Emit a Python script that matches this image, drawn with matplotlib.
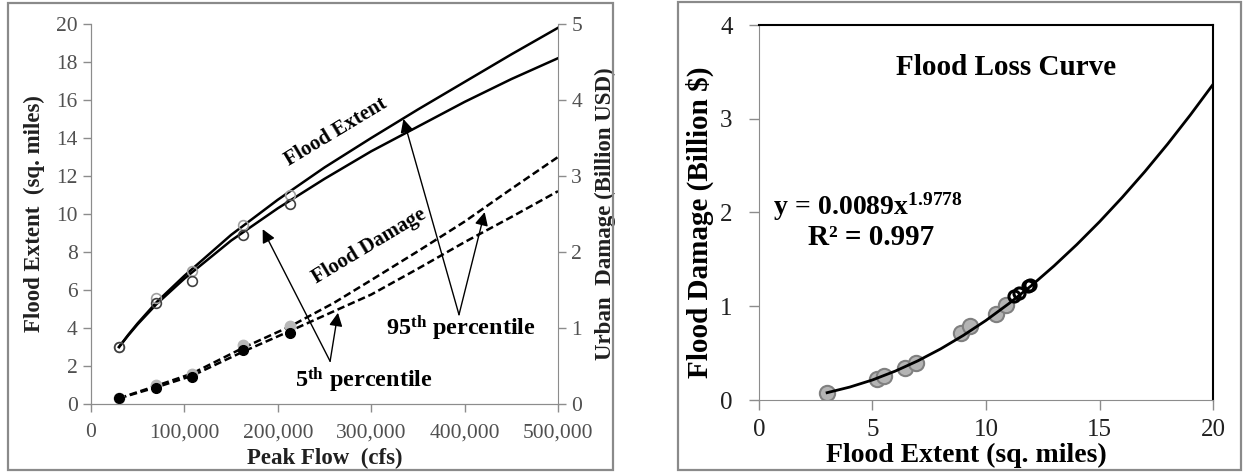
import matplotlib
matplotlib.use("Agg")
from matplotlib import pyplot as plt
from matplotlib.patches import Rectangle
import numpy as np

plt.rcParams['font.family'] = ['Liberation Serif', 'DejaVu Serif']
plt.rcParams['mathtext.fontset'] = 'custom'
plt.rcParams['mathtext.rm'] = 'Liberation Serif'
plt.rcParams['mathtext.bf'] = 'Liberation Serif:bold'
plt.rcParams['mathtext.it'] = 'Liberation Serif:italic'

# left panel: peak flow vs flood extent / damage
flow_curve = [30000, 40000, 50000, 70000, 100000, 150000, 200000, 250000, 300000, 350000, 400000, 450000, 500000]
extent_95 = [3.0, 3.65, 4.25, 5.35, 6.75, 8.9, 10.75, 12.45, 14.0, 15.5, 16.95, 18.4, 19.8]
extent_5 = [3.0, 3.62, 4.2, 5.25, 6.6, 8.6, 10.3, 11.85, 13.3, 14.6, 15.9, 17.1, 18.2]

flow_dmg = [30000, 70000, 108000, 163000, 213000, 260000, 300000, 350000, 400000, 450000, 500000]
damage_95 = [0.075, 0.24, 0.40, 0.74, 1.02, 1.33, 1.63, 2.01, 2.40, 2.83, 3.25]
damage_5 = [0.075, 0.22, 0.37, 0.69, 0.96, 1.22, 1.44, 1.78, 2.13, 2.46, 2.80]

flow_pts = [30000, 70000, 108000, 163000, 213000]
ext_pts_95 = [3.0, 5.6, 7.0, 9.4, 11.0]
ext_pts_5 = [3.0, 5.3, 6.5, 8.9, 10.5]
dmg_pts_95 = [0.075, 0.25, 0.40, 0.78, 1.03]
dmg_pts_5 = [0.075, 0.21, 0.35, 0.71, 0.94]

# right panel: flood extent vs flood damage
ext_obs = [3.0, 5.2, 5.5, 6.45, 6.9, 8.9, 9.3, 10.45, 10.9]
dmg_obs = [0.08, 0.22, 0.26, 0.34, 0.40, 0.72, 0.79, 0.92, 1.01]
ext_obs2 = [11.25, 11.45, 11.85, 11.95]
dmg_obs2 = [1.11, 1.14, 1.22, 1.23]
fit_x = [3, 4, 5, 6, 7, 8, 9, 10, 11, 12, 13, 14, 15, 16, 17, 18, 19, 20]
fit_y = [0.078, 0.138, 0.214, 0.308, 0.418, 0.545, 0.689, 0.849, 1.027, 1.220, 1.431, 1.658, 1.901, 2.161, 2.437, 2.730, 3.040, 3.366]

fig = plt.figure(figsize=(12.43, 4.73), dpi=100)

# outer frames
fig.add_artist(Rectangle((8/1243, 3/473), 605/1243, 467/473, transform=fig.transFigure,
                         fill=False, ec='#8a8a8a', lw=1.6))
fig.add_artist(Rectangle((678/1243, 3/473), 563/1243, 468/473, transform=fig.transFigure,
                         fill=False, ec='#8a8a8a', lw=1.6))

gray = '#8c8c8c'

# ---------------- left panel ----------------
ax = fig.add_axes([91/1243, 69/473, 467/1243, 380/473])
ax2 = ax.twinx()
ax.set_xlim(0, 500000)
ax.set_ylim(0, 20)
ax2.set_ylim(0, 5)

ax.plot(flow_curve, extent_95, color='black', lw=1.8)
ax.plot(flow_curve, extent_5, color='black', lw=1.8)
ax.plot(flow_pts, ext_pts_95, 'o', ms=7, mfc='none', mec='#a0a0a0', mew=1.2)
ax.plot(flow_pts, ext_pts_5, 'o', ms=7, mfc='none', mec='#404040', mew=1.2)

ax2.plot(flow_dmg, damage_95, color='black', lw=1.8, ls=(0, (3, 1.5)))
ax2.plot(flow_dmg, damage_5, color='black', lw=1.8, ls=(0, (3, 1.5)))
ax2.plot(flow_pts, dmg_pts_95, 'o', ms=7.5, mfc='#b8b8b8', mec='#b8b8b8')
ax2.plot(flow_pts, dmg_pts_5, 'o', ms=7, mfc='black', mec='black')

ax.set_xticks(np.arange(0, 500001, 100000))
ax.set_xticklabels(['0', '100,000', '200,000', '300,000', '400,000', '500,000'])
ax.set_yticks(np.arange(0, 21, 2))
ax2.set_yticks(np.arange(0, 6, 1))
for a in (ax, ax2):
    for s in a.spines.values():
        s.set_color(gray)
    a.spines['top'].set_visible(False)
    a.tick_params(colors=gray, labelcolor='#505050', labelsize=15.5, length=6, width=1)
ax.tick_params(axis='x', pad=8)
ax.spines['right'].set_visible(False)

ax.set_xlabel('Peak Flow  (cfs)', fontsize=16.5, fontweight='bold', color='#202020', labelpad=4)
ax.set_ylabel('Flood Extent  (sq. miles)', fontsize=16.5, fontweight='bold', color='#202020', labelpad=8)
ax2.set_ylabel('Urban  Damage (Billion USD)', fontsize=16.5, fontweight='bold', color='#202020', labelpad=9)

ax.text(262000, 14.3, 'Flood Extent', rotation=31, fontsize=15, fontweight='bold',
        ha='center', va='center')
ax.text(298000, 8.3, 'Flood Damage', rotation=31, fontsize=15, fontweight='bold',
        ha='center', va='center')
ax.text(396000, 4.0, r'$\mathbf{95^{th}}$ percentile', fontsize=17.5, fontweight='bold',
        ha='center', va='center')
ax.text(292000, 1.25, r'$\mathbf{5^{th}}$ percentile', fontsize=17.5, fontweight='bold',
        ha='center', va='center')

arrow = dict(arrowstyle='-|>', color='black', lw=1, mutation_scale=20, shrinkA=0, shrinkB=0)
ax.annotate('', xy=(334500, 15.0), xytext=(394000, 4.7), arrowprops=arrow)
ax.annotate('', xy=(421500, 10.1), xytext=(394000, 4.7), arrowprops=arrow)
ax.annotate('', xy=(183800, 9.2), xytext=(256000, 2.25), arrowprops=arrow)
ax.annotate('', xy=(264400, 4.8), xytext=(256000, 2.25), arrowprops=arrow)

# ---------------- right panel ----------------
bx = fig.add_axes([759/1243, 73/473, 454/1243, 375/473])
bx.set_xlim(0, 20)
bx.set_ylim(0, 4)
bx.plot(fit_x, fit_y, color='black', lw=2, zorder=3)
bx.plot(ext_obs, dmg_obs, 'o', ms=11, mfc='#b4b4b4', mec='#808080', mew=1.5, zorder=2)
bx.plot(ext_obs2, dmg_obs2, 'o', ms=8, mfc='none', mec='black', mew=2.2, zorder=4)

bx.set_xticks([0, 5, 10, 15, 20])
bx.set_yticks([0, 1, 2, 3, 4])
bx.spines['left'].set_color(gray)
bx.spines['bottom'].set_color(gray)
bx.spines['top'].set_color('black')
bx.spines['right'].set_color('black')
bx.spines['top'].set_linewidth(1.5)
bx.spines['right'].set_linewidth(1.5)
bx.tick_params(colors=gray, labelcolor='#202020', labelsize=18, length=7, width=1)
bx.tick_params(axis='x', pad=7)
bx.tick_params(axis='y', pad=12)

bx.set_xlabel('Flood Extent (sq. miles)', fontsize=20, fontweight='bold')
bx.xaxis.set_label_coords(0.456, -0.115)
bx.set_ylabel('Flood Damage (Billion $)', fontsize=21, fontweight='bold')
bx.yaxis.set_label_coords(-0.1, 0.475)

bx.text(10.9, 3.55, 'Flood Loss Curve', fontsize=21, fontweight='bold', ha='center', va='center')
bx.text(0.6, 2.06, r'$\mathbf{y\,=\,0.0089x^{1.9778}}$', fontsize=20, ha='left', va='center')
bx.text(4.95, 1.73, 'R² = 0.997', fontsize=21, fontweight='bold', ha='center', va='center')

fig.savefig('out.png', dpi=100)
